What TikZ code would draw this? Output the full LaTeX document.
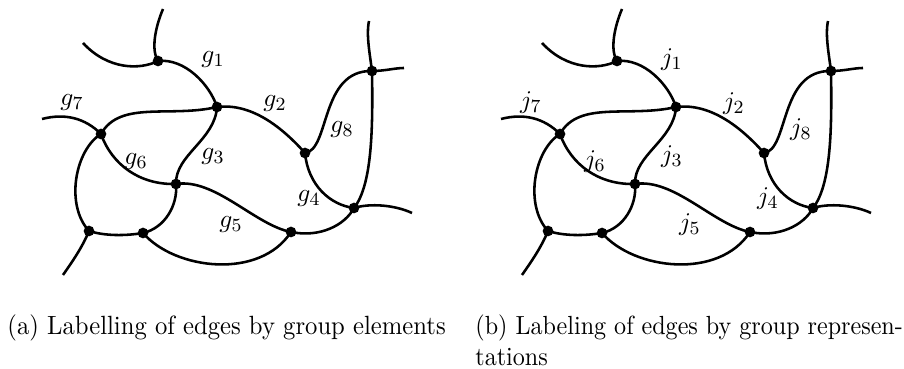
\documentclass[tikz,border=0pt]{standalone}
\begin{document}
\begin{tikzpicture}[x=0.43pt,y=-0.43pt,
  edge/.style={line width=1.1pt},
  vtx/.style={circle,fill=black,inner sep=0pt,minimum size=4.6pt},
  lbl/.style={inner sep=0pt,font=\fontsize{11}{13}\selectfont},
  captext/.style={inner sep=0pt,anchor=base west}]
\useasboundingbox (0,0) rectangle (904,369);
\newcommand{\drawpanel}[3]{%
\begin{scope}[xshift=#2*0.43pt]
\node[vtx] (#1A) at (158,61) {};
\node[vtx] (#1B) at (217,107) {};
\node[vtx] (#1C) at (101,134) {};
\node[vtx] (#1D) at (305,153) {};
\node[vtx] (#1E) at (372,71) {};
\node[vtx] (#1F) at (176,184) {};
\node[vtx] (#1G) at (354,208) {};
\node[vtx] (#1H) at (89,231) {};
\node[vtx] (#1I) at (143,233) {};
\node[vtx] (#1J) at (291,232) {};
\coordinate (#1a1) at (163,9);
\coordinate (#1a2) at (83,43);
\coordinate (#1c1) at (42,119);
\coordinate (#1h1) at (63,275);
\coordinate (#1e1) at (369,21);
\coordinate (#1e2) at (404,68);
\coordinate (#1g1) at (412,213);
\draw[edge] (#1A.center) .. controls (151,50) and (155,28) .. (#1a1);
\draw[edge] (#1A.center) .. controls (140,70) and (108,70) .. (#1a2);
\draw[edge] (#1A.center) .. controls (185,58) and (210,85) .. (#1B.center);
\draw[edge] (#1B.center) .. controls (170,118) and (120,100) .. (#1C.center);
\draw[edge] (#1B.center) .. controls (250,103) and (280,125) .. (#1D.center);
\draw[edge] (#1B.center) .. controls (215,140) and (175,155) .. (#1F.center);
\draw[edge] (#1C.center) .. controls (112,165) and (140,185) .. (#1F.center);
\draw[edge] (#1C.center) .. controls (85,118) and (65,113) .. (#1c1);
\draw[edge] (#1C.center) .. controls (75,150) and (65,205) .. (#1H.center);
\draw[edge] (#1H.center) .. controls (82,248) and (72,262) .. (#1h1);
\draw[edge] (#1H.center) .. controls (105,236) and (125,236) .. (#1I.center);
\draw[edge] (#1I.center) .. controls (165,228) and (178,205) .. (#1F.center);
\draw[edge] (#1I.center) .. controls (175,270) and (260,280) .. (#1J.center);
\draw[edge] (#1F.center) .. controls (215,178) and (255,225) .. (#1J.center);
\draw[edge] (#1J.center) .. controls (320,238) and (345,225) .. (#1G.center);
\draw[edge] (#1D.center) .. controls (308,185) and (330,205) .. (#1G.center);
\draw[edge] (#1D.center) .. controls (330,150) and (320,70) .. (#1E.center);
\draw[edge] (#1E.center) .. controls (373,130) and (372,185) .. (#1G.center);
\draw[edge] (#1E.center) .. controls (370,55) and (366,35) .. (#1e1);
\draw[edge] (#1E.center) .. controls (385,71) and (395,68) .. (#1e2);
\draw[edge] (#1G.center) .. controls (370,203) and (395,205) .. (#1g1);
\node[lbl] (#1l1) at (213,60) {$#3_1$};
\node[lbl] (#1l2) at (275,104) {$#3_2$};
\node[lbl] (#1l3) at (213,157) {$#3_3$};
\node[lbl] (#1l4) at (309,199) {$#3_4$};
\node[lbl] (#1l5) at (231,225) {$#3_5$};
\node[lbl] (#1l6) at (136,162) {$#3_6$};
\node[lbl] (#1l7) at (72,103) {$#3_7$};
\node[lbl] (#1l8) at (342,130) {$#3_8$};
\end{scope}}
\drawpanel{p}{0}{g}
\drawpanel{q}{459}{j}
\node[captext] (capa) at (7,335) {\scalebox{1}[1.07]{\fontsize{10.6}{13}\selectfont (a) Labelling of edges by group elements}};
\node[captext] (capb1) at (475,335) {\scalebox{1}[1.09]{\fontsize{10.35}{13}\selectfont (b) Labeling of edges by group represen-}};
\node[captext] (capb2) at (475,366) {\scalebox{1}[1.09]{\fontsize{10.35}{13}\selectfont tations}};
\end{tikzpicture}
\end{document}
